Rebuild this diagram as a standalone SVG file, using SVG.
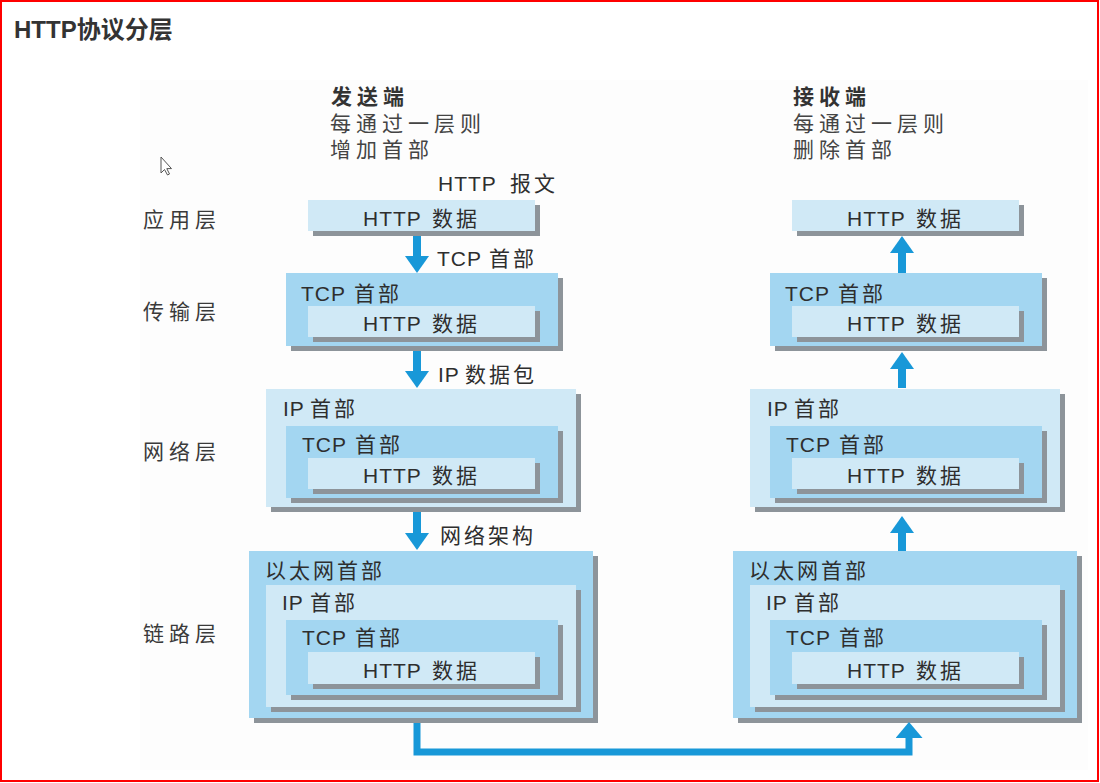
<svg xmlns="http://www.w3.org/2000/svg" width="1100" height="783" viewBox="0 0 1100 783">
<style>
text{font-family:"Liberation Sans","Noto Sans CJK SC",sans-serif;fill:#2e2e2e;}
.t{font-size:21px;letter-spacing:1px;}
.c{letter-spacing:3px;}
.lab{font-size:21px;letter-spacing:5px;fill:#3a3a3a;}
.hd{font-size:21px;letter-spacing:5px;fill:#444;}
.hdb{font-size:21px;letter-spacing:5px;font-weight:bold;fill:#333;}
.title{font-size:24px;font-weight:bold;fill:#333;}
.sh{fill:#8d949a;}
.lt{fill:#d0e9f6;}
.md{fill:#a3d6f1;}
.arr{stroke:#1898d8;stroke-width:8;fill:none;}
.link{stroke:#1898d8;stroke-width:7;fill:none;}
</style>
<defs>
<marker id="ah" markerUnits="userSpaceOnUse" viewBox="0 0 17 24" markerWidth="17" markerHeight="24" refX="0" refY="12" orient="auto">
<path d="M0,0 L17,12 L0,24 Z" fill="#1898d8"/>
</marker>
<marker id="ah2" markerUnits="userSpaceOnUse" viewBox="0 0 16 27" markerWidth="16" markerHeight="27" refX="0" refY="13.5" orient="auto">
<path d="M0,0 L16,13.5 L0,27 Z" fill="#1898d8"/>
</marker>
</defs>
<rect x="0" y="0" width="1100" height="783" fill="#ffffff"/>
<rect x="140" y="80" width="948" height="690" fill="#fdfdfd"/>
<rect x="1" y="1" width="1097" height="780" fill="none" stroke="#ff0000" stroke-width="2"/>
<text class="title" x="14" y="38">HTTP协议分层</text>
<path d="M161,157 L161,173 L164.5,169.5 L167.5,175 L169.5,174 L166.8,168.6 L171.5,168.6 Z" fill="#fff" stroke="#555" stroke-width="1"/>

<g id="sender-header">
<text class="hdb" x="331" y="104">发送端</text>
<text class="hd" x="330" y="131">每通过一层则</text>
<text class="hd" x="330" y="157">增加首部</text>
</g>
<g id="receiver-header">
<text class="hdb" x="793" y="104">接收端</text>
<text class="hd" x="793" y="131">每通过一层则</text>
<text class="hd" x="793" y="157">删除首部</text>
</g>
<g id="layer-labels">
<text class="lab" x="143" y="227">应用层</text>
<text class="lab" x="143" y="319">传输层</text>
<text class="lab" x="143" y="459">网络层</text>
<text class="lab" x="143" y="641">链路层</text>
</g>

<!-- Sender column -->
<g id="send-app">
<text class="t" x="438" y="191">HTTP<tspan class="c" x="510">报文</tspan></text>
<rect class="sh" x="313" y="205" width="227" height="31"/>
<rect class="lt" x="308" y="200" width="227" height="31"/>
<text class="t" x="363" y="226">HTTP<tspan class="c" x="432">数据</tspan></text>
</g>
<g id="send-transport">
<rect class="sh" x="291" y="278" width="272" height="73"/>
<rect class="md" x="286" y="273" width="272" height="73"/>
<text class="t" x="301" y="301">TCP<tspan class="c" x="354">首部</tspan></text>
<rect class="sh" x="313" y="311" width="227" height="31"/>
<rect class="lt" x="308" y="306" width="227" height="31"/>
<text class="t" x="363" y="331">HTTP<tspan class="c" x="432">数据</tspan></text>
</g>
<g id="send-network">
<rect class="sh" x="271" y="394" width="310" height="118"/>
<rect class="lt" x="266" y="389" width="310" height="118"/>
<text class="t" x="283" y="416">IP<tspan class="c" x="310">首部</tspan></text>
<rect class="sh" x="291" y="431" width="272" height="72"/>
<rect class="md" x="286" y="426" width="272" height="72"/>
<text class="t" x="302" y="452">TCP<tspan class="c" x="355">首部</tspan></text>
<rect class="sh" x="313" y="463" width="227" height="31"/>
<rect class="lt" x="308" y="458" width="227" height="31"/>
<text class="t" x="363" y="483">HTTP<tspan class="c" x="432">数据</tspan></text>
</g>
<g id="send-link">
<rect class="sh" x="254" y="556" width="344" height="167"/>
<rect class="md" x="249" y="551" width="344" height="167"/>
<text class="t" x="265" y="578"><tspan class="c">以太网首部</tspan></text>
<rect class="sh" x="271" y="590" width="310" height="122"/>
<rect class="lt" x="266" y="585" width="310" height="122"/>
<text class="t" x="282" y="610">IP<tspan class="c" x="310">首部</tspan></text>
<rect class="sh" x="291" y="625" width="272" height="75"/>
<rect class="md" x="286" y="620" width="272" height="75"/>
<text class="t" x="302" y="645">TCP<tspan class="c" x="355">首部</tspan></text>
<rect class="sh" x="313" y="657" width="227" height="32"/>
<rect class="lt" x="308" y="652" width="227" height="32"/>
<text class="t" x="363" y="678">HTTP<tspan class="c" x="432">数据</tspan></text>
</g>

<!-- Receiver column -->
<g id="recv-app" transform="translate(484 0)">
<rect class="sh" x="313" y="205" width="227" height="31"/>
<rect class="lt" x="308" y="200" width="227" height="31"/>
<text class="t" x="363" y="226">HTTP<tspan class="c" x="432">数据</tspan></text>
</g>
<g id="recv-transport" transform="translate(484 0)">
<rect class="sh" x="291" y="278" width="272" height="73"/>
<rect class="md" x="286" y="273" width="272" height="73"/>
<text class="t" x="301" y="301">TCP<tspan class="c" x="354">首部</tspan></text>
<rect class="sh" x="313" y="311" width="227" height="31"/>
<rect class="lt" x="308" y="306" width="227" height="31"/>
<text class="t" x="363" y="331">HTTP<tspan class="c" x="432">数据</tspan></text>
</g>
<g id="recv-network" transform="translate(484 0)">
<rect class="sh" x="271" y="394" width="310" height="118"/>
<rect class="lt" x="266" y="389" width="310" height="118"/>
<text class="t" x="283" y="416">IP<tspan class="c" x="310">首部</tspan></text>
<rect class="sh" x="291" y="431" width="272" height="72"/>
<rect class="md" x="286" y="426" width="272" height="72"/>
<text class="t" x="302" y="452">TCP<tspan class="c" x="355">首部</tspan></text>
<rect class="sh" x="313" y="463" width="227" height="31"/>
<rect class="lt" x="308" y="458" width="227" height="31"/>
<text class="t" x="363" y="483">HTTP<tspan class="c" x="432">数据</tspan></text>
</g>
<g id="recv-link" transform="translate(484 0)">
<rect class="sh" x="254" y="556" width="344" height="167"/>
<rect class="md" x="249" y="551" width="344" height="167"/>
<text class="t" x="265" y="578"><tspan class="c">以太网首部</tspan></text>
<rect class="sh" x="271" y="590" width="310" height="122"/>
<rect class="lt" x="266" y="585" width="310" height="122"/>
<text class="t" x="282" y="610">IP<tspan class="c" x="310">首部</tspan></text>
<rect class="sh" x="291" y="625" width="272" height="75"/>
<rect class="md" x="286" y="620" width="272" height="75"/>
<text class="t" x="302" y="645">TCP<tspan class="c" x="355">首部</tspan></text>
<rect class="sh" x="313" y="657" width="227" height="32"/>
<rect class="lt" x="308" y="652" width="227" height="32"/>
<text class="t" x="363" y="678">HTTP<tspan class="c" x="432">数据</tspan></text>
</g>

<g id="connectors">
<line class="arr" x1="417" y1="236" x2="417" y2="256" marker-end="url(#ah)"/>
<text class="t" x="437" y="266">TCP<tspan class="c" x="489">首部</tspan></text>
<line class="arr" x1="417" y1="351" x2="417" y2="371" marker-end="url(#ah)"/>
<text class="t" x="438" y="382">IP<tspan class="c" x="465">数据包</tspan></text>
<line class="arr" x1="417" y1="512" x2="417" y2="533" marker-end="url(#ah)"/>
<text class="t" x="440" y="543"><tspan class="c">网络架构</tspan></text>
<line class="arr" x1="902" y1="273" x2="902" y2="253" marker-end="url(#ah)"/>
<line class="arr" x1="902" y1="388" x2="902" y2="369" marker-end="url(#ah)"/>
<line class="arr" x1="902" y1="551" x2="902" y2="533" marker-end="url(#ah)"/>
<path class="link" d="M417,723 L417,752 L909,752 L909,738" marker-end="url(#ah2)"/>
</g>
</svg>
